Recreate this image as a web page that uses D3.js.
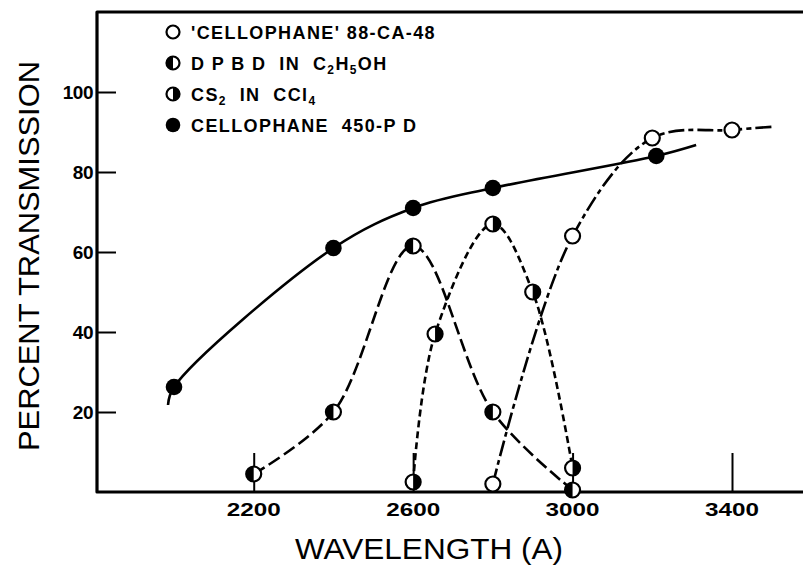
<!DOCTYPE html>
<html>
<head>
<meta charset="utf-8">
<script src="https://cdn.jsdelivr.net/npm/d3@7"></script>
<style>
  body { margin: 0; background: #fff; }
  svg { display: block; }
  text { font-family: "Liberation Sans", Arial, sans-serif; fill: #000; }
</style>
</head>
<body>
<script>
// data
var xTicks = [2200, 2600, 3000, 3400];
var yTicks = [20, 40, 60, 80, 100];

// 'CELLOPHANE' 88-CA-48 (open)
var openPts = [[2800, 2], [3000, 64], [3200, 88.5], [3400, 90.5]];
var openCurve = [[2800, 2], [3000, 64], [3200, 88.5], [3400, 90.5], [3500, 91.3]];

// DPBD in C2H5OH (left half filled)
var dpbdPts = [[2200, 4.5], [2400, 20], [2600, 61.5], [2800, 20], [3000, 0.5]];

// CS2 in CCl4 (right half filled)
var cs2Pts = [[2600, 2.5], [2655, 39.5], [2800, 67], [2900, 50], [3000, 6]];

// CELLOPHANE 450-PD (filled)
var fullPts = [[2000, 26.25], [2400, 61], [2600, 71], [2800, 76], [3210, 84]];
var fullCurve = [[1985, 21.75], [2000, 26.25], [2400, 61], [2600, 71], [2800, 76], [3210, 84], [3310, 86.75]];

var legendRows = [
  { kind: 'open', parts: [["'CELLOPHANE' 88-CA-48", false]] },
  { kind: 'left', parts: [["D P B D  IN  C", false], ["2", true], ["H", false], ["5", true], ["OH", false]] },
  { kind: 'right', parts: [["CS", false], ["2", true], ["  IN  CCl", false], ["4", true]] },
  { kind: 'full', parts: [["CELLOPHANE  450-P D", false]] }
];

var W = 803, H = 568;
var svg = d3.select('body').append('svg')
  .attr('width', W)
  .attr('height', H);

var x = d3.scaleLinear().domain([2000, 3400]).range([174, 732]);
var y = d3.scaleLinear().domain([0, 100]).range([492, 92]);

var xMin = x.invert(97), xMax = x.invert(806);
var yMax = y.invert(12), yMin = 0;

// frame
svg.append('path')
  .attr('d', d3.line()([[x(xMax), y(yMax)], [x(xMin), y(yMax)], [x(xMin), y(yMin)], [x(xMax), y(yMin)]]))
  .attr('fill', 'none')
  .attr('stroke', '#000')
  .attr('stroke-width', 3.2)
  .attr('stroke-linejoin', 'round');

// y ticks (inward)
var yAxis = d3.axisRight(y).tickValues(yTicks).tickSize(19).tickFormat('');
svg.append('g')
  .attr('transform', 'translate(' + x(xMin) + ',0)')
  .call(yAxis)
  .call(function (g) { g.select('.domain').remove(); })
  .selectAll('line').attr('stroke-width', 2);

svg.selectAll('.ylab')
  .data(yTicks).enter()
  .append('text')
  .attr('class', 'ylab')
  .attr('x', x(xMin) - 4)
  .attr('y', function (d) { return y(d) + 7; })
  .attr('text-anchor', 'end')
  .attr('font-size', 19)
  .attr('font-weight', 'bold')
  .attr('letter-spacing', -0.5)
  .text(function (d) { return d; });

// x ticks (inward, long)
var xAxis = d3.axisTop(x).tickValues(xTicks).tickSize(39).tickFormat('');
svg.append('g')
  .attr('transform', 'translate(0,' + y(yMin) + ')')
  .call(xAxis)
  .call(function (g) { g.select('.domain').remove(); })
  .selectAll('line').attr('stroke-width', 2);

svg.selectAll('.xlab')
  .data(xTicks).enter()
  .append('text')
  .attr('class', 'xlab')
  .attr('x', function (d) { return x(d); })
  .attr('y', 516)
  .attr('text-anchor', 'middle')
  .attr('font-size', 19)
  .attr('font-weight', 'bold')
  .attr('textLength', 54)
  .attr('lengthAdjust', 'spacingAndGlyphs')
  .text(function (d) { return d; });

// axis titles
svg.append('text')
  .attr('x', 429)
  .attr('y', 559)
  .attr('text-anchor', 'middle')
  .attr('font-size', 30)
  .attr('textLength', 268)
  .attr('lengthAdjust', 'spacingAndGlyphs')
  .text('WAVELENGTH (A)');

svg.append('text')
  .attr('transform', 'translate(39,256) rotate(-90)')
  .attr('text-anchor', 'middle')
  .attr('font-size', 30)
  .attr('textLength', 390)
  .attr('lengthAdjust', 'spacingAndGlyphs')
  .text('PERCENT TRANSMISSION');

// curves
var line = d3.line()
  .x(function (d) { return x(d[0]); })
  .y(function (d) { return y(d[1]); })
  .curve(d3.curveCatmullRom.alpha(0.5));

function drawCurve(data, dash) {
  svg.append('path')
    .datum(data)
    .attr('d', line)
    .attr('fill', 'none')
    .attr('stroke', '#000')
    .attr('stroke-width', 2.6)
    .attr('stroke-dasharray', dash);
}
drawCurve(fullCurve, null);
drawCurve(dpbdPts, '13,5');
drawCurve(cs2Pts, '7,4');
drawCurve(openCurve, '16,4,5,4');

// markers
function marker(g, kind, r) {
  if (kind === 'full') {
    g.append('circle').attr('r', r + 0.8).attr('fill', '#000');
    return;
  }
  g.append('circle').attr('r', r).attr('fill', '#fff');
  if (kind === 'left') {
    g.append('path').attr('d', 'M0,' + (-r) + 'A' + r + ',' + r + ' 0 0,0 0,' + r + 'Z').attr('fill', '#000');
  } else if (kind === 'right') {
    g.append('path').attr('d', 'M0,' + (-r) + 'A' + r + ',' + r + ' 0 0,1 0,' + r + 'Z').attr('fill', '#000');
  }
  g.append('circle').attr('r', r).attr('fill', 'none').attr('stroke', '#000').attr('stroke-width', 2.2);
}

function drawPoints(data, kind) {
  svg.selectAll(null)
    .data(data).enter()
    .append('g')
    .attr('transform', function (d) { return 'translate(' + x(d[0]) + ',' + y(d[1]) + ')'; })
    .each(function () { marker(d3.select(this), kind, 7.5); });
}
drawPoints(dpbdPts, 'left');
drawPoints(cs2Pts, 'right');
drawPoints(openPts, 'open');
drawPoints(fullPts, 'full');

// legend
var lg = svg.append('g').selectAll('g')
  .data(legendRows).enter()
  .append('g')
  .attr('transform', function (d, i) { return 'translate(173,' + (32 + i * 31) + ')'; });

lg.each(function (d) { marker(d3.select(this), d.kind, 6.5); });

lg.append('text')
  .attr('x', 18)
  .attr('y', 7)
  .attr('font-size', 18)
  .attr('font-weight', 'bold')
  .attr('letter-spacing', 1.4)
  .style('white-space', 'pre')
  .each(function (d) {
    var t = d3.select(this);
    var shift = 0;
    d.parts.forEach(function (p) {
      var want = p[1] ? 4 : 0;
      t.append('tspan')
        .attr('font-size', p[1] ? 12 : 18)
        .attr('dy', want - shift)
        .text(p[0]);
      shift = want;
    });
  });
</script>
</body>
</html>
